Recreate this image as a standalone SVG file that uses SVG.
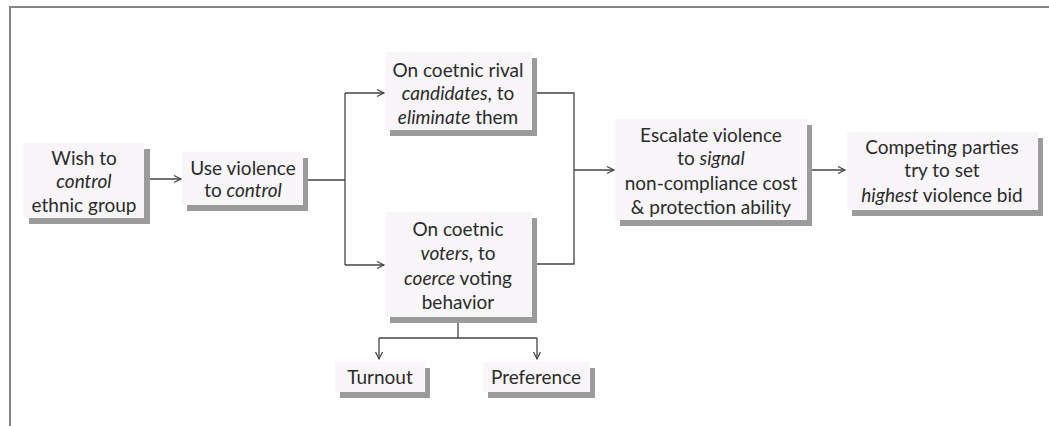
<svg xmlns="http://www.w3.org/2000/svg" width="1049" height="426" viewBox="0 0 1049 426">
<style>
.box{fill:#f8f6f9;stroke:none}
.shadow{fill:#9b9b9b}
.t{font-family:Lato,"Liberation Sans",sans-serif;font-size:19px;fill:#2b2b2b;text-anchor:middle}
.i{font-style:italic}
.c{fill:none;stroke:#444;stroke-width:1.3}
.frame{fill:none;stroke:#858585;stroke-width:2}
</style>
<defs>
<marker id="ah" markerWidth="10" markerHeight="10" refX="8" refY="5" orient="auto" markerUnits="userSpaceOnUse">
<polyline points="1,1.5 8,5 1,8.5" fill="none" stroke="#444" stroke-width="1.2"/>
</marker>
</defs>
<polyline class="frame" points="10,426 10,7 1049,7"/>
<g id="connectors">
<line class="c" x1="145" y1="179" x2="181" y2="179" marker-end="url(#ah)"/>
<polyline class="c" points="303,180 345,180"/>
<polyline class="c" points="345,93 345,265"/>
<line class="c" x1="345" y1="93" x2="384" y2="93" marker-end="url(#ah)"/>
<line class="c" x1="345" y1="265" x2="384" y2="265" marker-end="url(#ah)"/>
<polyline class="c" points="532,93 574,93 574,264 537,264"/>
<line class="c" x1="574" y1="170" x2="614" y2="170" marker-end="url(#ah)"/>
<line class="c" x1="807" y1="170" x2="845" y2="170" marker-end="url(#ah)"/>
<polyline class="c" points="458,320 458,338"/>
<polyline class="c" points="379,338 537,338"/>
<line class="c" x1="379" y1="338" x2="379" y2="359" marker-end="url(#ah)"/>
<line class="c" x1="537" y1="338" x2="537" y2="359" marker-end="url(#ah)"/>
</g>
<g id="n1">
<rect class="shadow" x="29" y="149" width="121" height="75"/>
<rect class="box" x="23" y="143" width="121" height="75"/>
<text class="t" x="84" y="165">Wish to</text>
<text class="t i" x="84" y="188">control</text>
<text class="t" x="84" y="212">ethnic group</text>
</g>
<g id="n2">
<rect class="shadow" x="187" y="158" width="121" height="53"/>
<rect class="box" x="182" y="152" width="121" height="53"/>
<text class="t" x="243" y="175">Use violence</text>
<text class="t" x="243" y="197">to <tspan class="i">control</tspan></text>
</g>
<g id="n3">
<rect class="shadow" x="390" y="58" width="147" height="78"/>
<rect class="box" x="385" y="52" width="147" height="78"/>
<text class="t" x="458" y="77">On coetnic rival</text>
<text class="t" x="458" y="100"><tspan class="i">candidates</tspan>, to</text>
<text class="t" x="458" y="124"><tspan class="i">eliminate</tspan> them</text>
</g>
<g id="n4">
<rect class="shadow" x="390" y="218" width="147" height="105"/>
<rect class="box" x="385" y="212" width="147" height="105"/>
<text class="t" x="458" y="236">On coetnic</text>
<text class="t" x="458" y="260"><tspan class="i">voters</tspan>, to</text>
<text class="t" x="458" y="285"><tspan class="i">coerce</tspan> voting</text>
<text class="t" x="458" y="309">behavior</text>
</g>
<g id="n5">
<rect class="shadow" x="620" y="125" width="192" height="101"/>
<rect class="box" x="615" y="119" width="192" height="101"/>
<text class="t" x="711" y="142">Escalate violence</text>
<text class="t" x="711" y="165">to <tspan class="i">signal</tspan></text>
<text class="t" x="711" y="190">non-compliance cost</text>
<text class="t" x="711" y="214">&amp; protection ability</text>
</g>
<g id="n6">
<rect class="shadow" x="852" y="138" width="191" height="78"/>
<rect class="box" x="847" y="132" width="191" height="78"/>
<text class="t" x="942" y="154">Competing parties</text>
<text class="t" x="942" y="177">try to set</text>
<text class="t" x="942" y="202"><tspan class="i">highest</tspan> violence bid</text>
</g>
<g id="n7">
<rect class="shadow" x="340" y="368" width="90" height="30"/>
<rect class="box" x="335" y="362" width="90" height="30"/>
<text class="t" x="380" y="384">Turnout</text>
</g>
<g id="n8">
<rect class="shadow" x="488" y="368" width="107" height="30"/>
<rect class="box" x="483" y="362" width="107" height="30"/>
<text class="t" x="536" y="384">Preference</text>
</g>
</svg>
